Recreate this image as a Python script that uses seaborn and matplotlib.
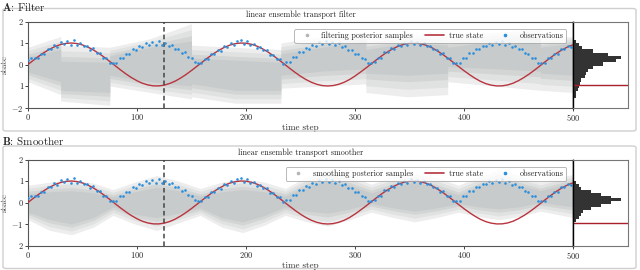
import numpy as np
import matplotlib
matplotlib.use("Agg")
import matplotlib.pyplot as plt
import seaborn as sns
from matplotlib.lines import Line2D
from matplotlib.patches import FancyBboxPatch

# ── data ──
true_t = list(range(0, 501, 5))
true_state = [0.0, 0.199, 0.389, 0.565, 0.717, 0.841, 0.932, 0.985, 1.0, 0.974,
              0.909, 0.808, 0.675, 0.516, 0.335, 0.141, -0.058, -0.256, -0.443, -0.612,
              -0.757, -0.872, -0.952, -0.994, -0.996, -0.959, -0.883, -0.773, -0.631, -0.465,
              -0.279, -0.083, 0.117, 0.312, 0.494, 0.657, 0.794, 0.899, 0.968, 0.999,
              0.989, 0.941, 0.855, 0.734, 0.585, 0.412, 0.223, 0.025, -0.174, -0.366,
              -0.544, -0.699, -0.828, -0.922, -0.981, -1.0, -0.980, -0.921, -0.827, -0.699,
              -0.537, -0.354, -0.165, 0.033, 0.231, 0.420, 0.592, 0.740, 0.857, 0.941,
              0.991, 0.999, 0.968, 0.900, 0.796, 0.650, 0.484, 0.301, 0.106, -0.093,
              -0.288, -0.470, -0.637, -0.780, -0.890, -0.961, -0.997, -0.993, -0.951, -0.871,
              -0.751, -0.605, -0.436, -0.249, -0.050, 0.150, 0.343, 0.523, 0.684, 0.815,
              0.913]

obs_t = list(range(0, 499, 3))
observations = [0.22, 0.30, 0.32, 0.30, 0.50, 0.49, 0.71, 0.72, 0.92, 0.82,
                1.05, 0.95, 1.07, 0.93, 1.13, 0.93, 1.00, 0.84, 0.86, 0.68,
                0.75, 0.55, 0.53, 0.31, 0.30, 0.09, 0.08, 0.06, 0.29, 0.28,
                0.47, 0.49, 0.72, 0.69, 0.86, 0.80, 1.01, 0.93, 1.05, 0.92,
                1.10, 0.93, 0.99, 0.84, 0.91, 0.73, 0.74, 0.53, 0.56, 0.34,
                0.32, 0.10, 0.09, 0.05, 0.26, 0.26, 0.49, 0.49, 0.68, 0.65,
                0.85, 0.83, 1.01, 0.91, 1.07, 1.15, 0.94, 1.08, 0.91, 0.96,
                0.79, 0.83, 0.66, 0.68, 0.46, 0.46, 0.26, 0.24, 0.04, 0.11,
                0.12, 0.35, 0.36, 0.58, 0.56, 0.76, 0.74, 0.93, 0.85, 1.03,
                0.95, 1.09, 0.94, 1.04, 0.89, 0.98, 0.83, 0.85, 0.66, 0.67,
                0.49, 0.49, 0.28, 0.26, 0.06, 0.09, 0.11, 0.32, 0.32, 0.56,
                0.56, 0.75, 0.72, 0.92, 0.86, 1.02, 0.92, 1.10, 0.95, 1.05,
                0.90, 0.98, 0.84, 0.88, 0.70, 0.69, 0.51, 0.52, 0.32, 0.31,
                0.08, 0.07, 0.09, 0.30, 0.31, 0.53, 0.53, 0.74, 0.70, 0.88,
                0.85, 1.02, 0.91, 1.06, 0.96, 1.08, 0.92, 1.00, 0.82, 0.88,
                0.71, 0.72, 0.52, 0.51, 0.30, 0.30, 0.09, 0.07, 0.08, 0.28,
                0.30, 0.51, 0.51, 0.72, 0.70, 0.88, 0.83]

# filtering posterior cloud (repeated t = jump between assimilation windows)
filt_t = [0, 30, 30, 75, 75, 112, 150, 150, 190, 232, 232, 270, 310, 310, 348, 385, 385, 428, 470, 470, 500]
filt_core_lo = [-0.35, -0.8, -1.2, -1.3, -0.5, -0.8, -1.0, -0.9, -1.2, -1.2, -0.5, -0.3, -0.2, -0.4, -0.5, -0.4, -0.1, -0.2, -0.3, -0.4, -0.5]
filt_core_hi = [0.35, 0.7, 0.15, 0.1, 0.4, 0.8, 1.1, 0.3, 0.2, 0.1, 0.5, 0.8, 1.1, 0.7, 1.0, 0.9, 0.8, 1.1, 1.2, 0.8, 1.0]
filt_halo_lo = [-0.8, -1.4, -1.7, -1.9, -1.0, -1.3, -1.6, -1.5, -1.8, -1.8, -1.1, -1.0, -0.9, -1.3, -1.5, -1.4, -0.8, -1.0, -1.2, -1.2, -1.3]
filt_halo_hi = [0.8, 1.3, 0.9, 0.8, 0.8, 1.2, 1.9, 0.9, 0.8, 0.7, 1.0, 1.3, 1.5, 1.2, 1.4, 1.3, 1.3, 1.5, 1.6, 1.2, 1.3]

# smoothing posterior cloud
smooth_t = [0, 20, 40, 60, 78, 98, 118, 138, 158, 178, 197, 217, 236, 256, 275, 295, 315, 335, 355, 375, 395, 413, 432, 451, 470, 485, 500]
smooth_core_lo = [-0.45, -0.8, -1.0, -0.7, -0.2, -0.55, -0.7, -0.5, -0.25, -0.7, -0.9, -0.6, -0.2, -0.4, -0.5, -0.3, -0.05, -0.25, -0.4, -0.25, -0.05, -0.2, -0.3, -0.2, 0.0, -0.1, -0.2]
smooth_core_hi = [0.4, 0.5, 0.55, 0.45, 0.25, 0.5, 0.7, 0.55, 0.3, 0.5, 0.6, 0.5, 0.3, 0.75, 1.0, 0.8, 0.45, 0.75, 0.95, 0.7, 0.35, 0.75, 1.0, 0.8, 0.55, 0.75, 0.95]
smooth_halo_lo = [-0.8, -1.3, -1.5, -1.15, -0.6, -1.0, -1.3, -0.95, -0.6, -1.15, -1.4, -1.05, -0.6, -0.9, -1.1, -0.8, -0.45, -0.7, -0.9, -0.7, -0.45, -0.65, -0.8, -0.65, -0.4, -0.55, -0.7]
smooth_halo_hi = [0.8, 0.95, 1.05, 0.9, 0.6, 0.95, 1.25, 1.0, 0.65, 0.95, 1.1, 0.95, 0.65, 1.2, 1.5, 1.25, 0.85, 1.2, 1.35, 1.15, 0.8, 1.2, 1.5, 1.25, 0.95, 1.15, 1.3]

# histograms of the final-step samples
filt_hist_edges = [1.15, 1.0, 0.85, 0.7, 0.55, 0.4, 0.25, 0.1, -0.05, -0.2, -0.35, -0.5,
                   -0.65, -0.8, -0.95, -1.1, -1.25, -1.4, -1.55, -1.7, -1.85, -2.0]
filt_hist_counts = [10, 18, 28, 60, 105, 143, 130, 90, 60, 45, 40, 35, 25, 20, 18, 15, 10, 8, 4, 2, 1]
smooth_hist_edges = [1.0, 0.865, 0.73, 0.595, 0.46, 0.325, 0.19, 0.055, -0.08, -0.215,
                     -0.35, -0.485, -0.62, -0.755, -0.89]
smooth_hist_counts = [10, 18, 25, 55, 85, 115, 143, 115, 85, 55, 30, 25, 18, 10]
final_true = -0.95
split_t = 125

x_ticks = [0, 100, 200, 300, 400, 500]
y_ticks = [-2, -1, 0, 1, 2]
y_labels_a = ["$-2$", "1", "0", "1", "2"]
y_labels_b = ["2", "$-1$", "0", "1", "2"]

RED = "#b8343f"
BLUE = "#2a8fdc"
CLOUD_SHADES = ["#ededed", "#e0e1e1", "#d3d5d5", "#c8cbcb"]
HIST = "#333333"

sns.set_theme(style="ticks")
plt.rcParams["font.family"] = ["cmr10", "DejaVu Serif"]
plt.rcParams["mathtext.fontset"] = "cm"
plt.rcParams["axes.formatter.use_mathtext"] = True
plt.rcParams["axes.unicode_minus"] = False

fig = plt.figure(figsize=(6.4, 2.7), dpi=100)


def draw_panel(bottom, letter, name, title, sample_label, t, clo, chi, hlo, hhi,
               edges, counts, ylabels, label_y):
    W, H = 640.0, 270.0
    ax = fig.add_axes([28 / W, bottom, 545 / W, 86 / H])
    axh = fig.add_axes([573 / W, bottom, 55 / W, 86 / H], sharey=ax)

    # sample cloud: nested bands fading from halo to core
    clo, chi, hlo, hhi = map(np.asarray, (clo, chi, hlo, hhi))
    for frac, shade in zip([0.0, 0.35, 0.7, 1.0], CLOUD_SHADES):
        ax.fill_between(t, hlo + frac * (clo - hlo), hhi + frac * (chi - hhi),
                        color=shade, lw=0, zorder=1)
    sns.lineplot(x=true_t, y=true_state, ax=ax, color=RED, lw=1.0, legend=False, zorder=3)
    ax.axvline(split_t, color="#444444", ls=(0, (3, 2)), lw=1.1, zorder=4)
    sns.scatterplot(x=obs_t, y=observations, ax=ax, color=BLUE, s=3.5, linewidth=0,
                    legend=False, zorder=5)

    ax.set_xlim(0, 500)
    ax.set_ylim(-2, 2)
    ax.set_xticks(x_ticks)
    ax.set_yticks(y_ticks)
    ax.set_yticklabels(ylabels)
    ax.tick_params(labelsize=6, length=2, width=0.6, pad=1.5)
    ax.set_xlabel("time step", fontsize=6.5, labelpad=0.5)
    ax.set_ylabel("state", fontsize=6.5, labelpad=1.5)
    ax.set_title(title, fontsize=5.8, pad=3)
    for s in ax.spines.values():
        s.set_color("#555555")
        s.set_linewidth(0.8)
    ax.spines["right"].set_color("black")
    ax.spines["right"].set_linewidth(1.0)

    handles = [
        Line2D([], [], marker="o", ls="", color="#b5b5b5", ms=1.6, label=sample_label),
        Line2D([], [], color=RED, lw=1.2, label="true state"),
        Line2D([], [], marker="o", ls="", color=BLUE, ms=1.6, label="observations"),
    ]
    leg = ax.legend(handles=handles, loc="upper right", ncol=3, fontsize=5.8,
                    frameon=True, fancybox=True, edgecolor="#999999",
                    bbox_to_anchor=(0.995, 0.96), borderpad=0.35,
                    columnspacing=1.5, handlelength=2.4, handletextpad=0.6)
    leg.get_frame().set_linewidth(0.6)

    e = np.array(edges)
    axh.barh((e[:-1] + e[1:]) / 2, counts, height=e[:-1] - e[1:], color=HIST, lw=0)
    axh.plot([0, 165], [final_true, final_true], color="#a8202a", lw=1.0)
    axh.set_xlim(0, 165)
    axh.set_xticks([])
    axh.tick_params(left=False, labelleft=False)
    for s in axh.spines.values():
        s.set_color("#777777")
        s.set_linewidth(0.8)
    axh.spines["left"].set_color("black")
    axh.spines["left"].set_linewidth(1.0)

    fig.text(0.003, label_y, rf"$\mathbf{{{letter}}}$: {name}", fontsize=8, va="top", ha="left")


draw_panel(1 - 107.5 / 270, "A", "Filter", "linear ensemble transport filter",
           "filtering posterior samples", filt_t, filt_core_lo, filt_core_hi,
           filt_halo_lo, filt_halo_hi, filt_hist_edges, filt_hist_counts,
           y_labels_a, 0.998)
draw_panel(1 - 245.5 / 270, "B", "Smoother", "linear ensemble transport smoother",
           "smoothing posterior samples", smooth_t, smooth_core_lo, smooth_core_hi,
           smooth_halo_lo, smooth_halo_hi, smooth_hist_edges, smooth_hist_counts,
           y_labels_b, 0.5)

# light rounded frames around each panel
for y0, y1 in [(8.5, 131), (146, 268.5)]:
    fig.add_artist(FancyBboxPatch((3 / 640, 1 - y1 / 270), 633 / 640, (y1 - y0) / 270,
                                  boxstyle="round,pad=0,rounding_size=0.006",
                                  transform=fig.transFigure, fill=False,
                                  edgecolor="#cfcfcf", lw=1.0))

fig.savefig("out.png", dpi=100)
